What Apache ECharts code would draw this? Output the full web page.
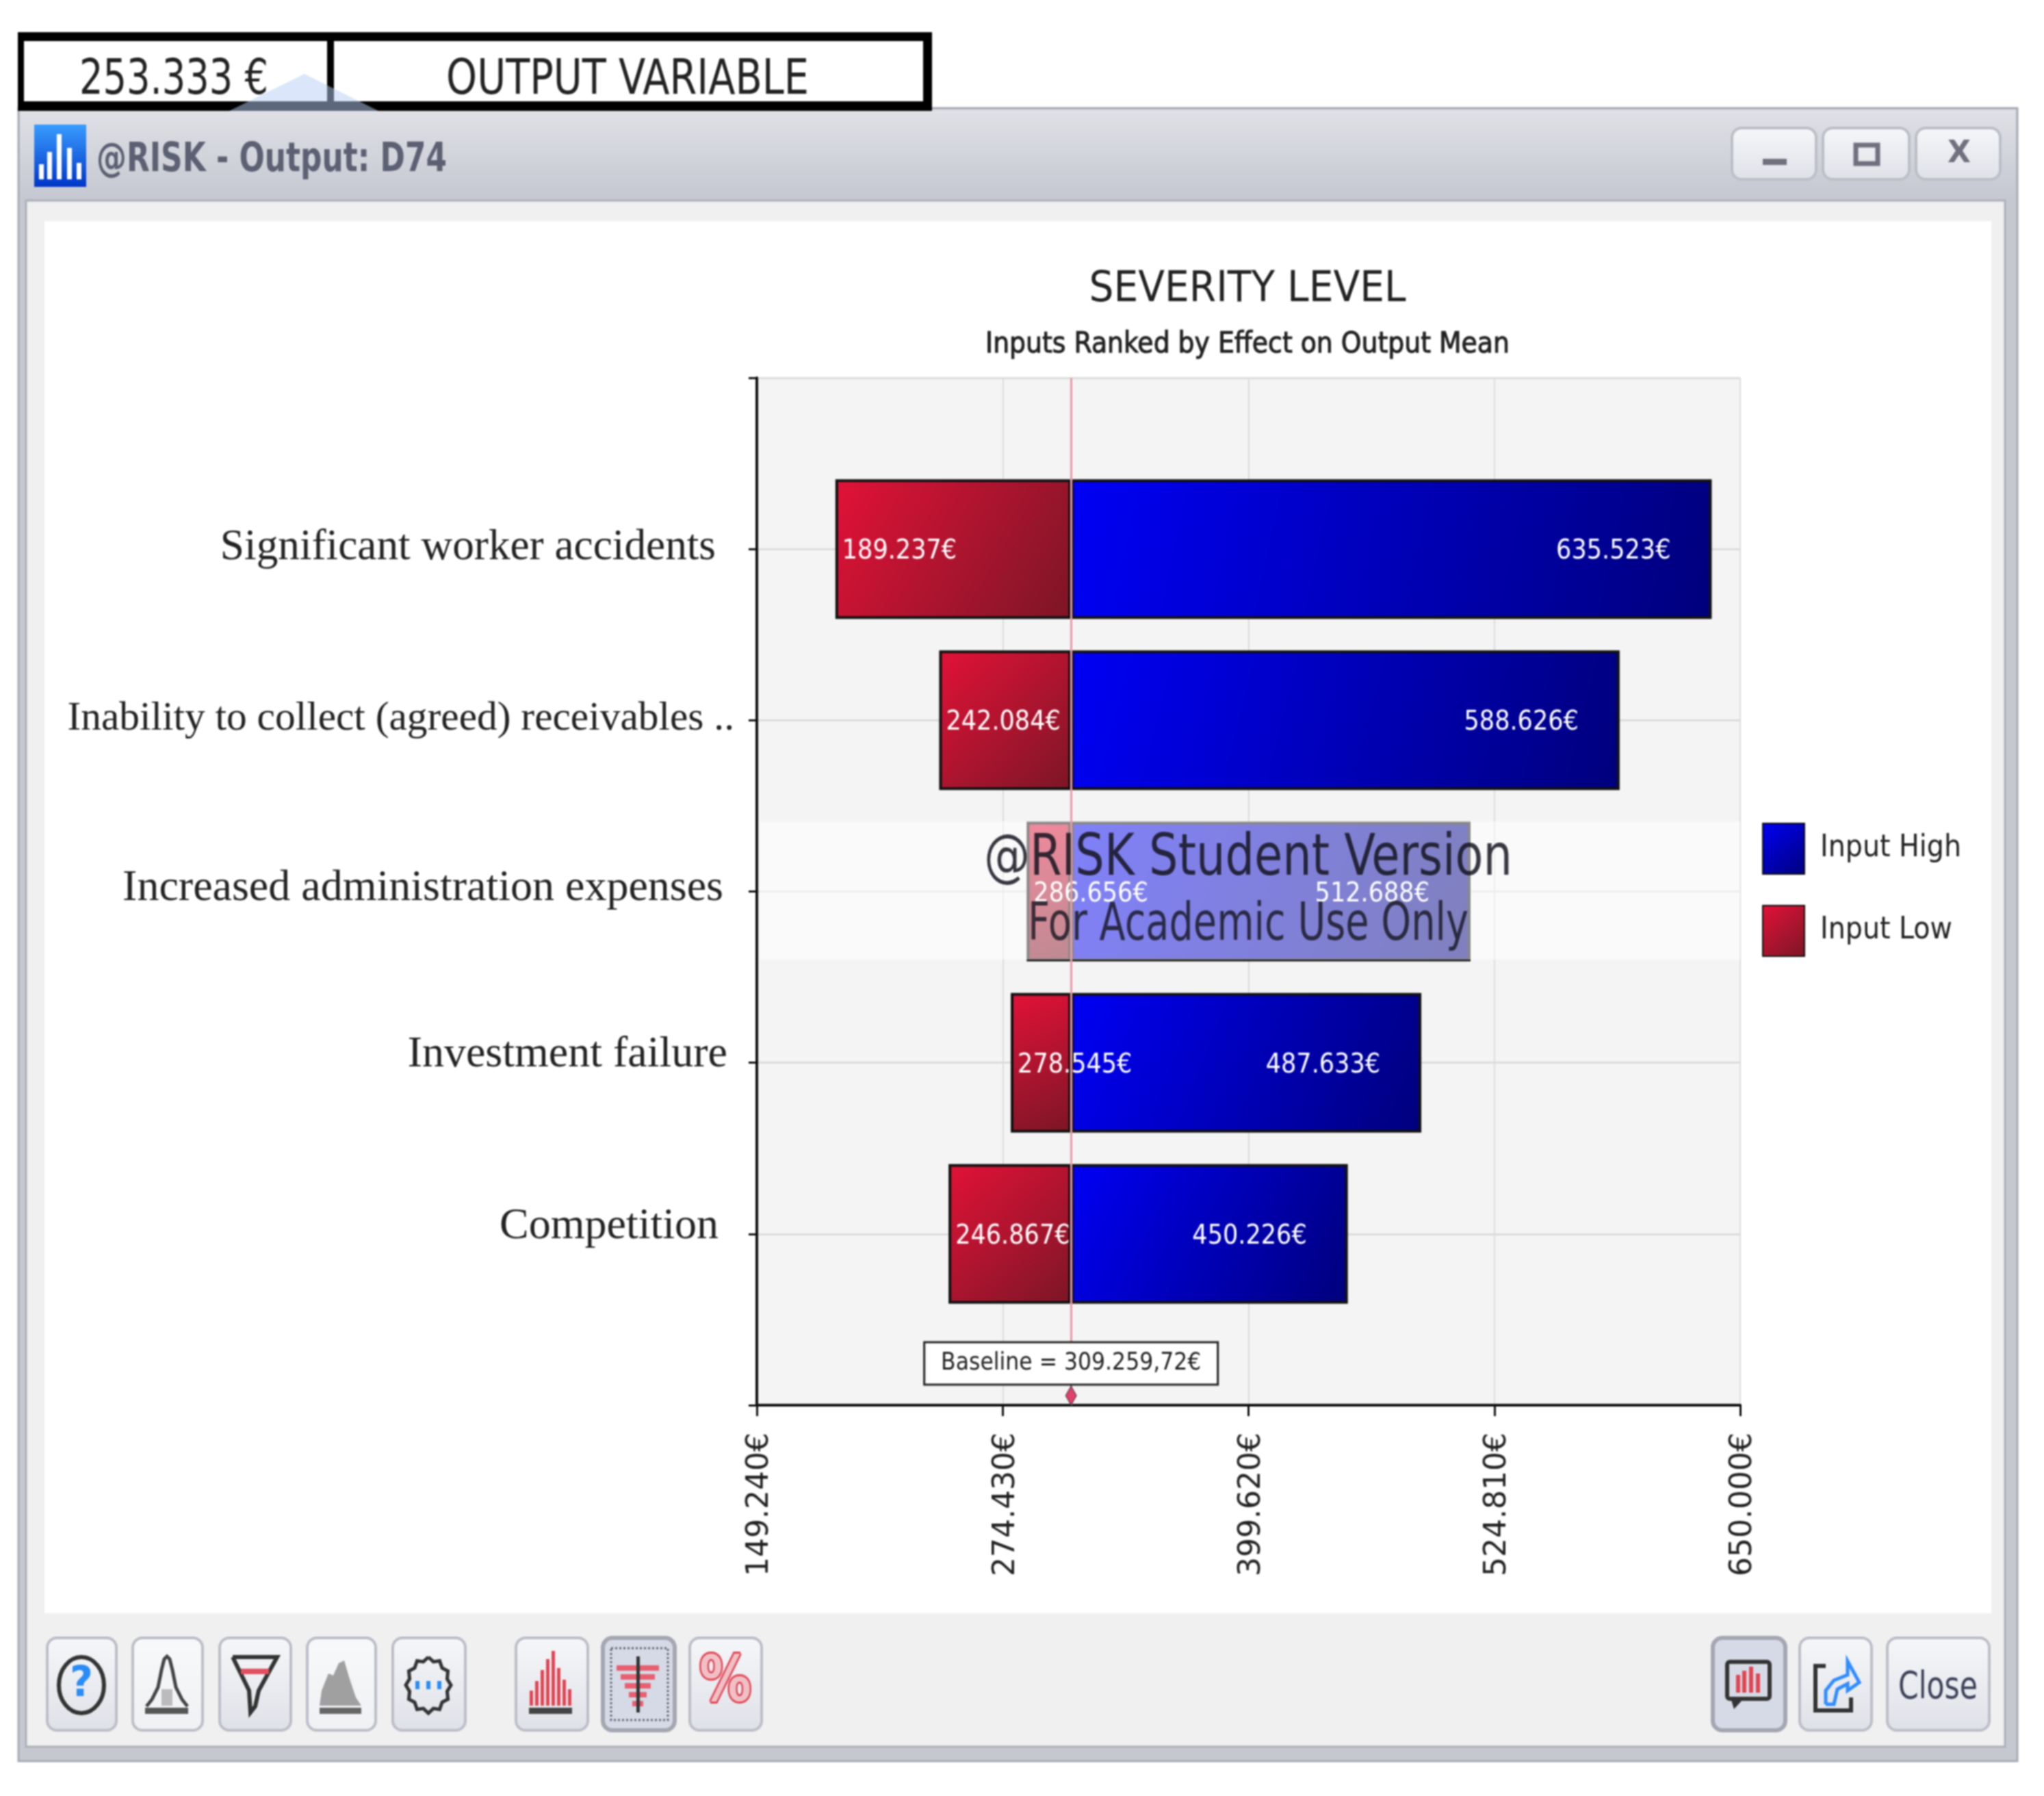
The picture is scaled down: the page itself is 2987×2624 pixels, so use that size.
<!DOCTYPE html>
<html><head><meta charset="utf-8">
<style>html,body{margin:0;padding:0;background:#fff}#c{width:2987px;height:2624px;filter:blur(0.8px)}</style>
<script src="https://cdn.jsdelivr.net/npm/echarts@6/dist/echarts.min.js"></script>
</head><body><div id="c"></div>
<script>
const categories = ['Significant worker accidents','Inability to collect (agreed) receivables ..','Increased administration expenses','Investment failure','Competition'];
const inputLow = [189.237,242.084,286.656,278.545,246.867];
const inputHigh = [635.523,588.626,512.688,487.633,450.226];
const baseline = 309.25972;
const baselineText = 'Baseline = 309.259,72€';
const xTicks = [149.24,274.43,399.62,524.81,650];
const titleText = 'SEVERITY LEVEL';
const subtitleText = 'Inputs Ranked by Effect on Output Mean';

const COND = '"DejaVu Sans Condensed","Liberation Sans Narrow","DejaVu Sans",sans-serif';
const fmt = v => v.toFixed(3) + '€';
const yCats = [' ', ...categories, '  '];
const pad = a => [null, ...a, null];
const grad = (a,b) => new echarts.graphic.LinearGradient(0,0,1,1,[{offset:0,color:a},{offset:1,color:b}]);
const vgrad = (a,b) => new echarts.graphic.LinearGradient(0,0,0,1,[{offset:0,color:a},{offset:1,color:b}]);
const ctx = document.createElement('canvas').getContext('2d');

const els = [];
const rect = (x,y,w,h,fill,o={}) => els.push({type:'rect',z:o.z??-10,shape:{x,y,width:w,height:h,r:o.r||0},style:{fill,stroke:o.stroke,lineWidth:o.lw,lineDash:o.dash,opacity:o.op},silent:true});
const poly = (pts,o) => els.push({type:o.fill?'polygon':'polyline',z:o.z??-9,shape:{points:pts},style:{fill:o.fill,stroke:o.stroke,lineWidth:o.lw,opacity:o.op},silent:true});
const txt = (t,cx,cy,font,fill,w,o={}) => { ctx.font=font; const m=ctx.measureText(t).width;
  els.push({type:'text',z:o.z??-8,x:cx,y:cy,scaleX:w?w/m:1,silent:true,style:{text:t,font,fill,align:'center',verticalAlign:'middle',stroke:o.stroke,lineWidth:o.lw,opacity:o.op}}); };
const btn = (x0,x1,y0,y1,sel,dim) => rect(x0,y0,x1-x0,y1-y0,sel?'#d6dae6':vgrad(dim?'#f8f9fa':'#f6f7f9',dim?'#f0f1f4':'#dfe1e8'),{r:14,stroke:sel?'#a4a6b2':'#bcbec8',lw:sel?6:4,z:-9});

// window chrome
rect(27,158,2921,2415,'#c5c7d1',{stroke:'#a8aab4',lw:3});
rect(29,160,2917,133,vgrad('#e0e1e6','#c5c7d1'));
rect(38,293,2892,2259,'#f0f0f0',{stroke:'#adafb9',lw:3});
rect(65,323,2845,2034,'#ffffff');
// box above the window
rect(26,47,1336,115,'#000',{z:-6});
rect(35,60,443,88,'#fff',{z:-6});
rect(488,60,861,88,'#fff',{z:-6});
txt('253.333 €',254,118,'72px '+COND,'#222',276,{z:-5});
txt('OUTPUT VARIABLE',917,118,'72px '+COND,'#222',530,{z:-5});
poly([[335,162],[445,108],[553,162]],{fill:'#b8cdf5',op:0.5,z:-4});
// window title
rect(50,182,76,91,vgrad('#3a9cff','#0036c8'));
[[57,240],[69,222],[83,196],[98,216],[112,238]].forEach(b=>rect(b[0],b[1],7,262-b[1],'#fff',{z:-9}));
txt('@RISK - Output: D74',397,235,'bold 58px '+COND,'#5c6072',512);
btn(2531,2654,187,262); btn(2664,2790,187,262); btn(2800,2923,187,262);
rect(2576,232,35,9,'#70707f',{z:-8});
rect(2712,212,32,27,'none',{stroke:'#70707f',lw:7,z:-8});
txt('X',2863,226,'bold 44px "DejaVu Sans",sans-serif','#70707f');
// toolbar
btn(69,170,2393,2528); btn(194,296,2393,2528,false,true); btn(321,425,2393,2528); btn(449,549,2393,2528,false,true); btn(574,680,2393,2528);
btn(754,859,2393,2528); btn(881,986,2393,2528,true); btn(1008,1113,2393,2528);
btn(2503,2609,2393,2528,true); btn(2630,2735,2393,2528); btn(2758,2907,2393,2528);
els.push({type:'ellipse',z:-8,silent:true,shape:{cx:119,cy:2462,rx:33,ry:41},style:{fill:'none',stroke:'#333',lineWidth:6}});
txt('?',119,2462,'bold 62px "DejaVu Sans",sans-serif','#2a8cf5',34);
poly([[214,2493],[222,2483],[231,2465],[236,2440],[240,2424],[244,2420],[248,2424],[252,2440],[257,2465],[266,2483],[274,2493]],{stroke:'#444',lw:5});
rect(236,2468,16,24,'#bbb',{z:-8}); rect(212,2495,63,9,'#555',{z:-8});
poly([[340,2421],[405,2421],[378,2470],[373,2493],[366,2502],[364,2470],[340,2421]],{stroke:'#333',lw:6});
rect(352,2438,41,8,'#e05060',{z:-8});
poly([[467,2492],[470,2470],[480,2445],[487,2448],[495,2430],[503,2426],[510,2450],[520,2480],[528,2492]],{fill:'#a0a0a0'});
rect(467,2495,61,9,'#666',{z:-8});
const gear=[]; for(let i=0;i<24;i++){const a=i/24*2*Math.PI,k=i%2?0.86:1;gear.push([626+33*k*Math.sin(a),2462-41*k*Math.cos(a)]);}
poly([...gear,gear[0]],{stroke:'#333',lw:5});
[610,626,642].forEach(x=>rect(x-3,2456,6,12,'#2a8cf5',{z:-8}));
[22,36,52,68,80,55,38,24].forEach((h,i)=>rect(774+i*8,2492-h,5,h,'#e04553',{z:-8}));
rect(773,2495,63,9,'#444',{z:-8});
rect(893,2408,83,105,'none',{stroke:'#667',lw:3,dash:[3,3],z:-8});
[62,50,38,26,16].forEach((w,i)=>rect(932-w/2,2433+i*13,w,8,'#e86070',{z:-8}));
rect(930,2420,5,82,'#333',{z:-7});
txt('%',1060,2461,'bold 92px "DejaVu Sans",sans-serif','#f0c0c6',76,{stroke:'#e04553',lw:6});
rect(2524,2428,62,54,'none',{stroke:'#333',lw:6,r:4,z:-8});
poly([[2530,2484],[2534,2497],[2546,2484]],{fill:'#333'});
[[2537,26],[2546,32],[2556,38],[2566,28]].forEach(b=>rect(b[0],2473-b[1],6,b[1],'#e04553',{z:-8}));
poly([[2668,2434],[2653,2434],[2653,2499],[2705,2499],[2705,2480]],{stroke:'#333',lw:6});
poly([[2668,2490],[2668,2470],[2680,2455],[2700,2447],[2700,2427],[2717,2458],[2700,2470],[2700,2460],[2685,2468],[2680,2490],[2668,2490]],{stroke:'#2f8cff',lw:5});
txt('Close',2832,2466,'56px '+COND,'#3c4158',116);

// watermark over the plot
rect(1110,1200,1433,202,'rgba(255,255,255,0.5)',{z:5});
txt('@RISK Student Version',1824,1256,'84px '+COND,'rgba(20,20,30,0.85)',772,{z:6});
txt('For Academic Use Only',1824,1353,'76px '+COND,'rgba(20,20,30,0.8)',644,{z:6});

// per-row nudges of the category labels, kept apart from the data
const rowRight = [27,0,16,10,23];
const rowUp = [4,4,8,22,22];
const rowSize = [63.3,59.4,64,64,64];
const rich = {};
categories.forEach((c,i)=>{rich['r'+i]={fontFamily:'"Liberation Serif",serif',fontSize:rowSize[i],color:'#222',padding:[0,rowRight[i],rowUp[i],0]};});

const barLabel = {fontFamily:COND,fontSize:39,color:'#fff',offset:[0,4]};
const option = {
  animation:false,
  backgroundColor:'#fff',
  graphic:{elements:els},
  title:[
    {text:titleText,left:1818,top:419,textAlign:'center',textVerticalAlign:'middle',textStyle:{fontFamily:COND,fontWeight:'normal',fontSize:63,color:'#222'}},
    {text:subtitleText,left:1818,top:499,textAlign:'center',textVerticalAlign:'middle',textStyle:{fontFamily:COND,fontWeight:'normal',fontSize:42,color:'#222',textBorderColor:'#222',textBorderWidth:1}}
  ],
  legend:{data:['Input High','Input Low'],orient:'vertical',left:2570,top:1197,itemWidth:61,itemHeight:74,itemGap:44,icon:'rect',selectedMode:false,
    textStyle:{fontFamily:COND,fontSize:44,color:'#222',padding:[0,0,0,18]}},
  grid:{left:1106,right:444,top:552,bottom:571,show:true,backgroundColor:'#f4f4f4',borderWidth:0},
  xAxis:{type:'value',min:xTicks[0],max:xTicks[xTicks.length-1],position:'bottom',
    axisLine:{show:true,lineStyle:{color:'#111',width:4}},
    axisTick:{show:true,length:16,customValues:xTicks,lineStyle:{color:'#111',width:3}},
    axisLabel:{show:true,customValues:xTicks,rotate:90,margin:40,formatter:v=>'{t|'+fmt(v)+'}',showMinLabel:true,showMaxLabel:true,
      rich:{t:{fontFamily:'"DejaVu Sans",sans-serif',fontSize:44,color:'#222',padding:[10,0,0,0]}}},
    splitLine:{show:true,lineStyle:{color:'#dcdcdc',width:2}}},
  yAxis:{type:'category',inverse:true,boundaryGap:false,data:yCats,
    axisLine:{show:true,lineStyle:{color:'#111',width:4}},
    axisTick:{show:true,length:12,inside:false,alignWithLabel:true,lineStyle:{color:'#111',width:3}},
    axisLabel:{show:true,interval:0,margin:33,formatter:(v,i)=>(i>=1&&i<=categories.length)?'{r'+(i-1)+'|'+v+'}':'',rich},
    splitLine:{show:true,interval:0,lineStyle:{color:'#dcdcdc',width:3}}},
  series:[
    {name:'Baseline',type:'line',data:[],z:1,
      markLine:{silent:true,symbol:'none',label:{show:false},lineStyle:{color:'#e89aa8',width:3,type:'solid'},data:[{xAxis:baseline}]},
      markPoint:{silent:true,symbol:'diamond',symbolSize:[16,28],symbolOffset:[0,-14],itemStyle:{color:'#e0406a',borderColor:'#333',borderWidth:1},
        data:[{coord:[baseline,yCats.length-1],value:0}],
        label:{show:true,position:'inside',offset:[0,-47],formatter:baselineText,fontFamily:COND,fontSize:35,color:'#222',backgroundColor:'#fff',borderColor:'#222',borderWidth:3,padding:[12,30,12,30],width:366,align:'center'}}},
    {name:'base',type:'bar',stack:'t',barWidth:204,silent:true,itemStyle:{color:'transparent',borderWidth:0},data:pad(inputLow)},
    {name:'Input Low',type:'bar',stack:'t',barWidth:204,itemStyle:{color:grad('#e21238','#7c1626'),borderColor:'#111',borderWidth:4},
      label:{show:true,position:'insideLeft',distance:10,...barLabel,formatter:p=>fmt(inputLow[p.dataIndex-1])},
      data:pad(inputLow.map(v=>baseline-v))},
    {name:'Input High',type:'bar',stack:'t',barWidth:204,itemStyle:{color:grad('#0000f5','#00007c'),borderColor:'#111',borderWidth:4},
      label:{show:true,position:'insideRight',distance:60,...barLabel,formatter:p=>fmt(inputHigh[p.dataIndex-1])},
      data:pad(inputHigh.map(v=>v-baseline))}
  ]
};
const chart = echarts.init(document.getElementById('c'),null,{renderer:'canvas',width:2987,height:2624});
chart.setOption(option);
</script></body></html>
